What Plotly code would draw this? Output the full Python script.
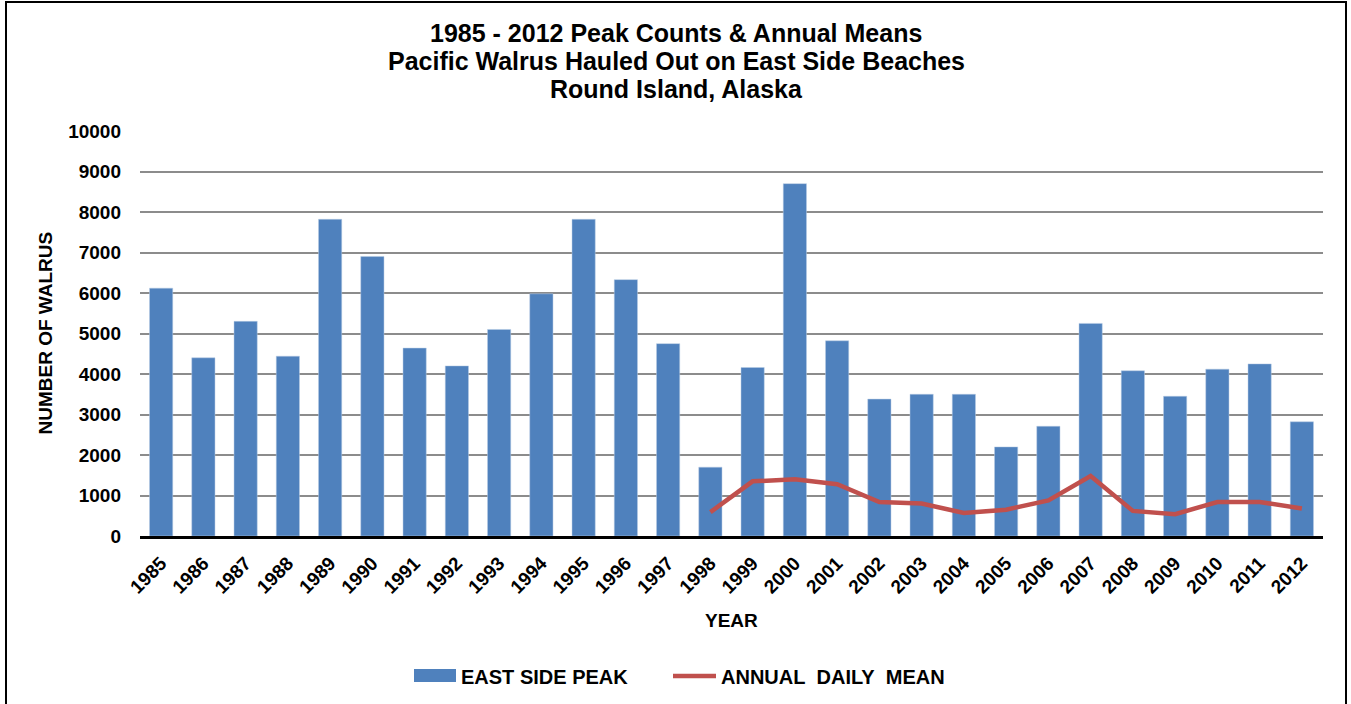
import plotly.graph_objects as go

years = [str(y) for y in range(1985, 2013)]
peak_counts = [6120, 4400, 5300, 4440, 7820, 6900, 4640, 4200, 5100, 5980,
               7820, 6330, 4750, 1700, 4160, 8700, 4820, 3380, 3500, 3500,
               2200, 2710, 5250, 4080, 3450, 4120, 4250, 2820]
mean_years = [str(y) for y in range(1998, 2013)]
daily_means = [590, 1350, 1400, 1280, 840, 800, 570, 650, 880, 1480,
               620, 540, 840, 840, 680]
y_ticks = list(range(0, 10001, 1000))
title_lines = ["1985 - 2012 Peak Counts & Annual Means",
               "Pacific Walrus Hauled Out on East Side Beaches",
               "Round Island, Alaska"]

FONT = "Liberation Sans, Arial, sans-serif"
BAR_COLOR = "#4F81BD"
LINE_COLOR = "#C0504D"

fig = go.Figure()
fig.add_trace(go.Bar(x=years, y=peak_counts, name="EAST SIDE PEAK",
                     marker=dict(color=BAR_COLOR, line=dict(color="#B9CDE5", width=0.5))))
fig.add_trace(go.Scatter(x=mean_years, y=daily_means, name="ANNUAL DAILY MEAN",
                         mode="lines", line=dict(color=LINE_COLOR, width=4.5)))

# plot area in px: x 140..1323, y 131..536
def px_x(p):
    return (p - 140) / 1183.0

def px_y(p):
    return (536 - p) / 405.0

def bold(size):
    return dict(size=size, family=FONT, color="black", weight="bold")

annotations = []
for text, cy in zip(title_lines, [33, 61, 89]):
    annotations.append(dict(text=text, xref="paper", yref="paper", x=px_x(676), y=px_y(cy),
                            xanchor="center", yanchor="middle", showarrow=False, font=bold(25)))
annotations += [
    dict(text="NUMBER OF WALRUS", textangle=-90, xref="paper", yref="paper",
         x=px_x(45), y=0.5, xanchor="center", yanchor="middle", showarrow=False, font=bold(19)),
    dict(text="YEAR", xref="paper", yref="paper",
         x=px_x(731), y=px_y(620), xanchor="center", yanchor="middle", showarrow=False, font=bold(19)),
    dict(text=fig.data[0].name, xref="paper", yref="paper",
         x=px_x(459), y=px_y(677), xanchor="left", yanchor="middle", showarrow=False, font=bold(20)),
    dict(text="ANNUAL\u00a0\u00a0DAILY\u00a0\u00a0MEAN", xref="paper", yref="paper",
         x=px_x(719), y=px_y(677), xanchor="left", yanchor="middle", showarrow=False, font=bold(20)),
]

shapes = [
    dict(type="rect", xref="paper", yref="paper",
         x0=px_x(6), x1=px_x(1346), y0=px_y(712), y1=px_y(2),
         line=dict(color="black", width=2), fillcolor="rgba(0,0,0,0)", layer="below"),
    dict(type="rect", xref="paper", yref="paper",
         x0=px_x(414), x1=px_x(456), y0=px_y(682), y1=px_y(669),
         line=dict(width=0), fillcolor=BAR_COLOR),
    dict(type="line", xref="paper", yref="paper",
         x0=px_x(673), x1=px_x(716), y0=px_y(676), y1=px_y(676),
         line=dict(color=LINE_COLOR, width=4.5)),
]

fig.update_layout(
    width=1351, height=704,
    margin=dict(l=140, r=28, t=131, b=168),
    paper_bgcolor="white", plot_bgcolor="white",
    font=dict(family=FONT, color="black"),
    bargap=0.45,
    showlegend=False,
    xaxis=dict(type="category", showline=True, linecolor="black", linewidth=2.5,
               showgrid=False, ticks="", tickangle=-45, ticklabelstandoff=6,
               tickfont=bold(19)),
    yaxis=dict(range=[0, 10000], tickvals=y_ticks, tickformat="d", showgrid=True,
               gridcolor="#8C8C8C", gridwidth=1.5, zeroline=False, showline=False,
               ticks="", ticklabelstandoff=18, tickfont=bold(19)),
    annotations=annotations,
    shapes=shapes,
)

fig.write_html("out.html", config={"displayModeBar": False},
               post_script="document.body.style.margin='0px';")
